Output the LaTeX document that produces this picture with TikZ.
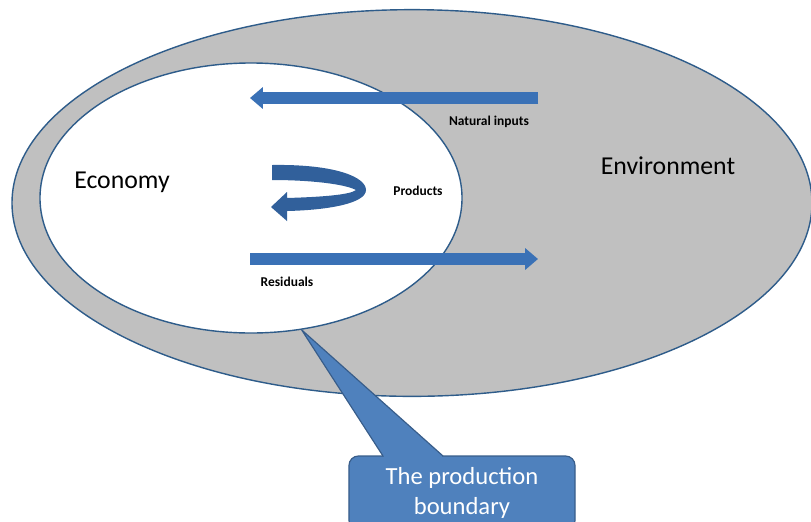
\documentclass[tikz,border=0pt]{standalone}
\usepackage{fontspec}
\setmainfont{Carlito}
\usetikzlibrary{positioning,shapes,arrows.meta}

\definecolor{rimblue}{HTML}{2E5C8A}
\definecolor{envgray}{HTML}{C0C0C0}
\definecolor{flowblue}{HTML}{3A71B6}
\definecolor{callblue}{HTML}{4F81BD}
\definecolor{callrim}{HTML}{385D8A}

\tikzset{
  flow/.style={line width=10.2pt, color=flowblue, -{Triangle[width=18pt,length=11pt]}},
  small/.style={font=\fontsize{11.5}{13}\selectfont\bfseries},
  big/.style={font=\fontsize{22}{26}\selectfont},
}

\begin{document}
\begin{tikzpicture}[x=0.03cm, y=-0.03cm]
\useasboundingbox (0,0) rectangle (811,521);
% the two regions
\node (env) [ellipse, draw=rimblue, line width=1.2pt, fill=envgray, minimum width=24cm, minimum height=11.6cm] at (412,203) {};
\node (economy) [ellipse, draw=rimblue, line width=1.2pt, fill=white, minimum width=12.66cm, minimum height=8.1cm] at (251,198) {};
% labels
\node (econlabel) [big] at (122,182) {Economy};
\node (envlabel) [big] at (668,166) {Environment};
\node (inputs) [small] at (489,122) {Natural inputs};
\node (products) [small] at (418,191) {Products};
\node (residuals) [small] at (287,282) {Residuals};
% flows
\coordinate (inA) at (538,98);
\coordinate (inB) at (250,98);
\coordinate (outA) at (250,259);
\coordinate (outB) at (538,259);
\draw[flow] (inA) -- (inB);
\draw[flow] (outA) -- (outB);
% loop of products
\fill[flowblue!85!black] (272,165) .. controls (335,164) and (366,177) .. (366,190)
  .. controls (366,203) and (330,210) .. (287,211) -- (287,221) -- (271,207) -- (287,192) -- (287,198)
  .. controls (320,197) and (350,195) .. (356,190)
  .. controls (345,184) and (310,180) .. (272,180) -- cycle;
% callout
\node (boundary) [draw=callrim, line width=1pt, fill=callblue, rounded corners=8pt, text=white, align=center,
  minimum width=6.78cm, minimum height=2.22cm, font=\fontsize{21}{25.6}\selectfont] at (462,493) {The production\\boundary};
\coordinate (tip) at (economy.291);
\fill[callblue] (383,456) -- (tip) -- (443,456) -- cycle;
\fill[callblue] (384,454) rectangle (442,459);
\draw[callrim, line width=1pt, line join=round] (383,456) -- (tip) -- (443,456);
\end{tikzpicture}
\end{document}
